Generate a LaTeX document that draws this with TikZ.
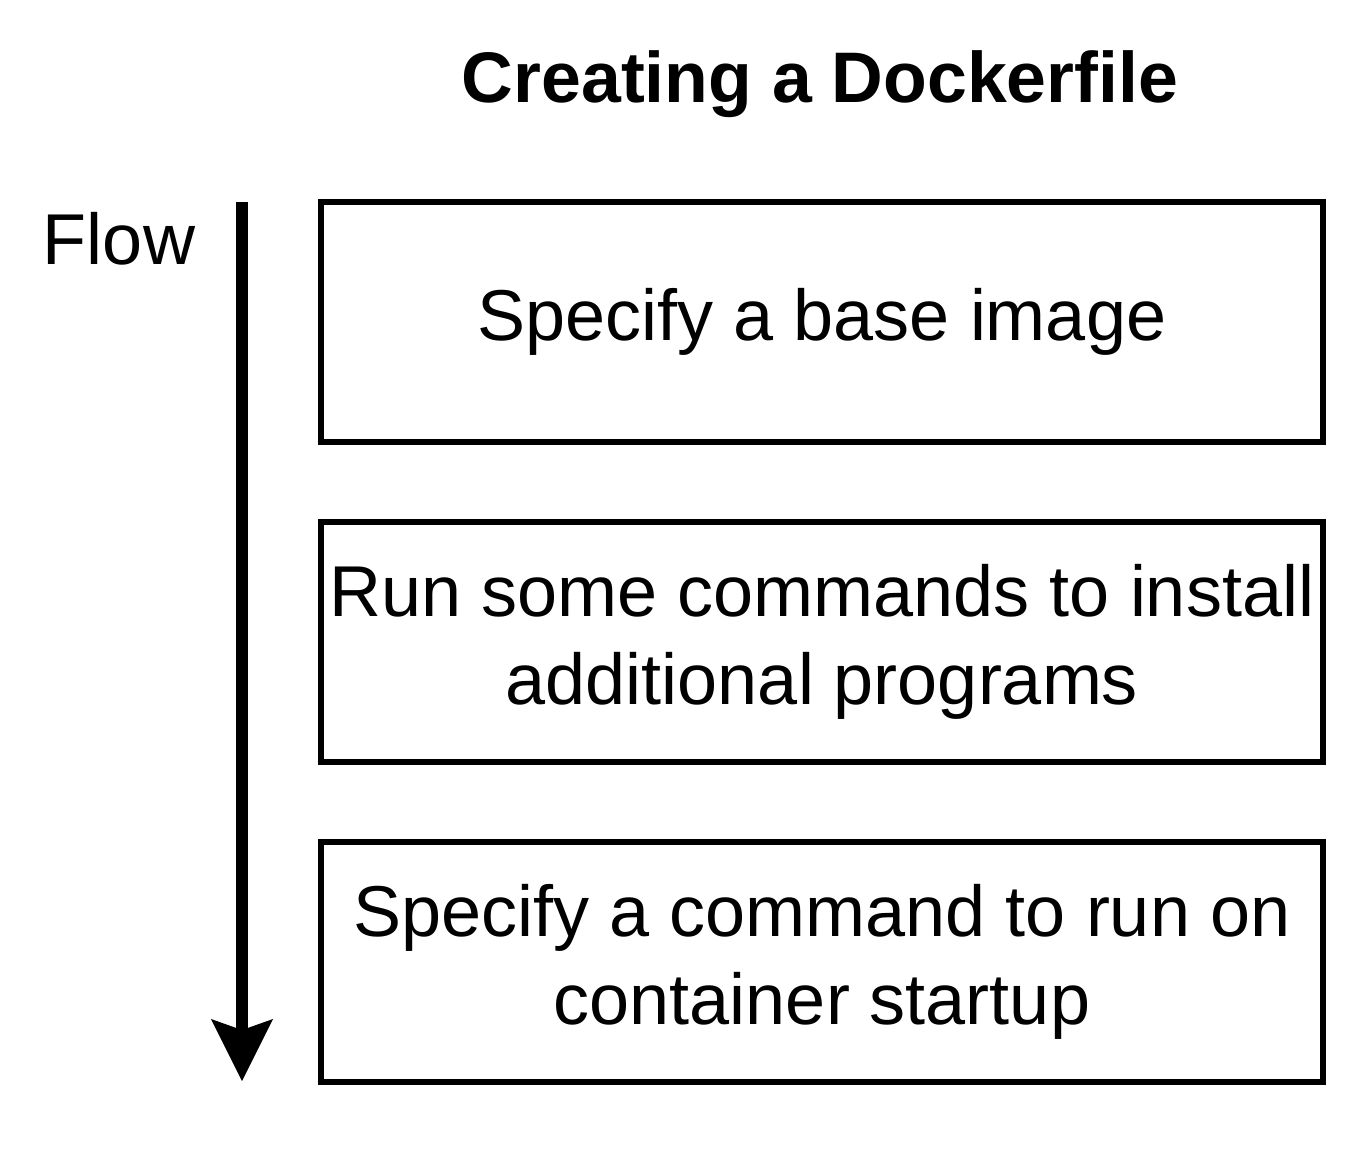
\documentclass[tikz,border=0pt]{standalone}
\usepackage{fontspec}
\setmainfont{Liberation Sans}
\begin{document}
\begin{tikzpicture}[x=0.5pt,y=-0.5pt,
  stepbox/.style={draw=black, line width=3pt, minimum width=501pt, minimum height=120pt, inner sep=0pt, align=center, font=\fontsize{36}{44}\selectfont},
  lbl/.style={inner sep=0pt, anchor=base}]
\useasboundingbox (0,0) rectangle (1368,1160);
\node[lbl, font=\bfseries\fontsize{35.8}{42}\selectfont] (title) at (820,103) {Creating a Dockerfile};
\node[lbl, font=\fontsize{36}{44}\selectfont] (flow) at (119,265) {Flow};
\node[stepbox] (b1) at (822,322) {\raisebox{-2pt}{Specify a base image}};
\node[stepbox] (b2) at (822,642) {\raisebox{-1.5pt}{Run some commands to install}\\\raisebox{-1.5pt}{additional programs}};
\node[stepbox] (b3) at (822,962) {\raisebox{-1.5pt}{Specify a command to run on}\\\raisebox{-1.5pt}{container startup}};
\coordinate (top) at (242,202);
\coordinate (notch) at (242,1030);
\coordinate (tip) at (242,1081);
\coordinate (hl) at (211,1019);
\coordinate (hr) at (273,1019);
\draw[line width=6pt] (top) -- (notch);
\fill (tip) -- (hl) -- (notch) -- (hr) -- cycle;
\end{tikzpicture}
\end{document}
